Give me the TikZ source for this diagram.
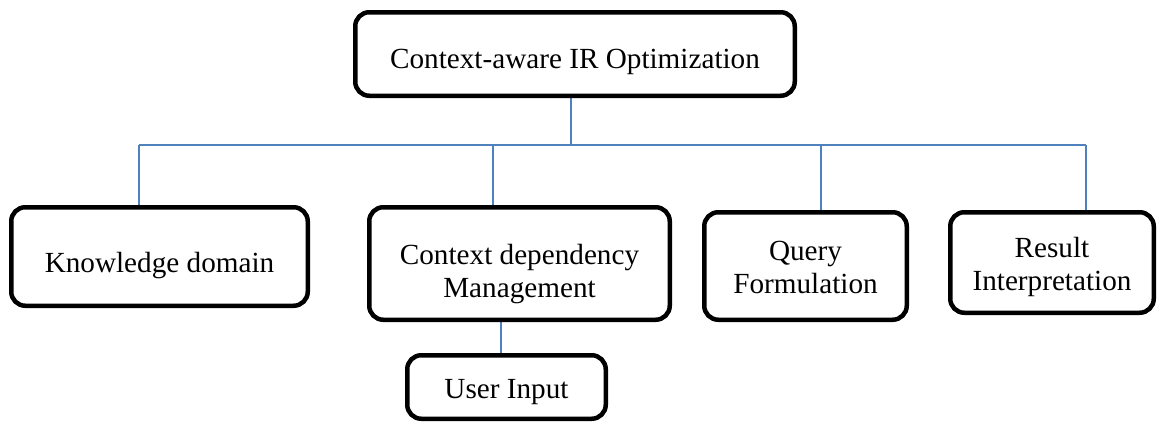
\documentclass[tikz,border=0pt]{standalone}
\usepackage{fontspec}
\setmainfont{Liberation Serif}
\usetikzlibrary{backgrounds}
\definecolor{linkblue}{RGB}{79,129,189}
\begin{document}
\begin{tikzpicture}[x=1pt,y=-1pt,
  box/.style={draw=black, line width=4.5pt, rounded corners=14pt, fill=white,
    inner sep=0pt},
  txt/.style={inner sep=0pt, align=center, font=\fontsize{29.2}{33}\selectfont},
  link/.style={draw=linkblue, line width=2pt}]
\useasboundingbox (0,0) rectangle (1159,421);

% boxes (minimum sizes are outer sizes less the border width);
% the text sits a little below the centre of each frame
\node[box, minimum width=439.5pt, minimum height=83.5pt,
  label={[txt, yshift=-8pt]center:Context-aware IR Optimization}] (top) at (575,54) {};
\node[box, minimum width=296.5pt, minimum height=98.5pt,
  label={[txt, yshift=-9pt]center:Knowledge domain}] (kd) at (159.5,256.5) {};
\node[box, minimum width=300.5pt, minimum height=112.5pt,
  label={[txt, yshift=-11pt]center:{Context dependency\\Management}}] (cd) at (519.5,263.5) {};
\node[box, minimum width=202.5pt, minimum height=107.5pt,
  label={[txt, yshift=-1pt]center:{Query\\Formulation}}] (qf) at (805.5,266) {};
\node[box, minimum width=203.5pt, minimum height=100.5pt,
  label={[txt, yshift=-4pt]center:{Result\\Interpretation}}] (ri) at (1052,262.5) {};
\node[box, minimum width=198.5pt, minimum height=63.5pt,
  label={[txt, yshift=-5pt]center:User Input}] (ui) at (506.5,387) {};

% junction points on the bus line
\coordinate (j0) at (571,145);
\coordinate (j1) at (139,145);
\coordinate (j2) at (493,145);
\coordinate (j3) at (821,145);
\coordinate (j4) at (1086,145);
\coordinate (k0) at (501,300);

\begin{scope}[on background layer]
  \draw[link] (top.south -| j0) -- (j0);
  \draw[link] (j1) -- (j4);
  \draw[link] (j1) -- (j1 |- kd.north);
  \draw[link] (j2) -- (j2 |- cd.north);
  \draw[link] (j3) -- (j3 |- qf.north);
  \draw[link] (j4) -- (j4 |- ri.north);
  \draw[link] (cd.south -| k0) -- (ui.north -| k0);
\end{scope}
\end{tikzpicture}
\end{document}
